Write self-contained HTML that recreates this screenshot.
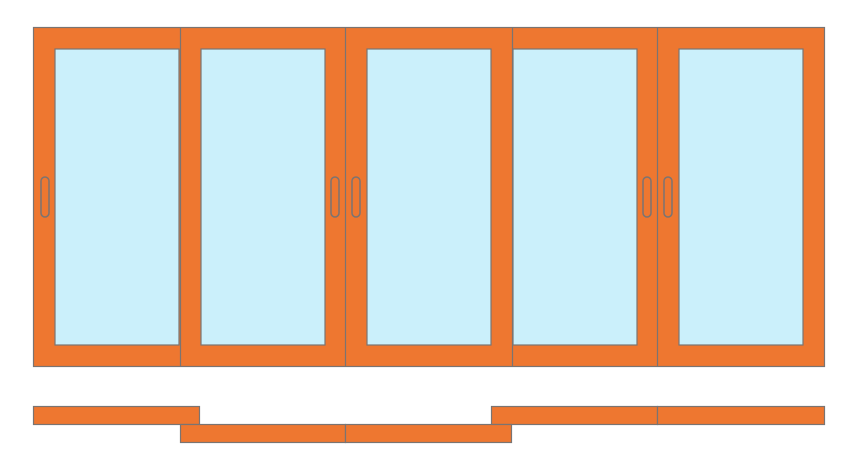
<!DOCTYPE html>
<html><head><style>html,body{margin:0;padding:0;background:#fff;}svg{display:block}</style></head>
<body>
<svg width="860" height="470" viewBox="0 0 860 470" xmlns="http://www.w3.org/2000/svg">
<g stroke="#7a7472" stroke-width="1.2">
<rect x="33.5" y="27.5" width="791" height="339" fill="#ee7730"/>
<!-- glass -->
<rect x="55" y="49" width="124" height="296" fill="#cbf0fb"/>
<rect x="201" y="49" width="124" height="296" fill="#cbf0fb"/>
<rect x="367" y="49" width="124" height="296" fill="#cbf0fb"/>
<rect x="513" y="49" width="124" height="296" fill="#cbf0fb"/>
<rect x="679" y="49" width="124" height="296" fill="#cbf0fb"/>
<!-- dividers -->
<line x1="180.5" y1="27.5" x2="180.5" y2="366.5"/>
<line x1="345.5" y1="27.5" x2="345.5" y2="366.5"/>
<line x1="512.5" y1="27.5" x2="512.5" y2="366.5"/>
<line x1="657.5" y1="27.5" x2="657.5" y2="366.5"/>
<!-- handles -->
<g fill="none" stroke-width="1.5">
<rect x="41" y="177" width="8" height="40" rx="4"/>
<rect x="331" y="177" width="8" height="40" rx="4"/>
<rect x="352" y="177" width="8" height="40" rx="4"/>
<rect x="643" y="177" width="8" height="40" rx="4"/>
<rect x="664" y="177" width="8" height="40" rx="4"/>
</g>
<!-- bottom tracks -->
<rect x="33.5" y="406.5" width="166" height="18" fill="#ee7730"/>
<rect x="491.5" y="406.5" width="166" height="18" fill="#ee7730"/>
<rect x="657.5" y="406.5" width="167" height="18" fill="#ee7730"/>
<rect x="180.5" y="424.5" width="165" height="18" fill="#ee7730"/>
<rect x="345.5" y="424.5" width="166" height="18" fill="#ee7730"/>
</g>
</svg>
</body></html>
